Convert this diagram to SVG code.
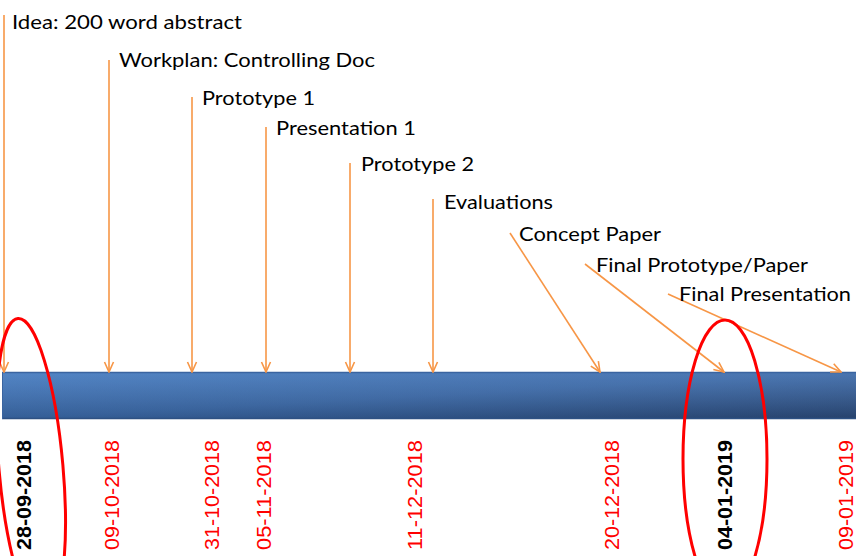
<svg xmlns="http://www.w3.org/2000/svg" width="856" height="556" viewBox="0 0 856 556">
<defs>
<linearGradient id="barg" x1="0" y1="0" x2="1" y2="1">
<stop offset="0" stop-color="#437AC0"/>
<stop offset="0.5" stop-color="#3B6AAA"/>
<stop offset="1" stop-color="#2B4A7A"/>
</linearGradient>
<linearGradient id="barv" x1="0" y1="0" x2="0" y2="1">
<stop offset="0" stop-color="#ffffff" stop-opacity="0.08"/>
<stop offset="1" stop-color="#000000" stop-opacity="0.12"/>
</linearGradient>
<marker id="arr" viewBox="0 0 12 12" refX="11" refY="6" markerWidth="12" markerHeight="12" markerUnits="userSpaceOnUse" orient="auto">
<path d="M1,1.5 L11,6 L1,10.5" fill="none" stroke="#F79646" stroke-width="1.6"/>
</marker>
</defs>
<style>
.lbl{font-family:Lato,"Liberation Sans",sans-serif;font-size:20px;fill:#000}
.conn line{stroke:#F79646;stroke-width:1.6;fill:none;marker-end:url(#arr)}
.dr{font-family:"Liberation Sans",Arial,sans-serif;font-size:21px;fill:#FF0000}
.db{font-family:"Liberation Sans",Arial,sans-serif;font-size:21px;font-weight:bold;fill:#000}
.ell{fill:none;stroke:#FF0000;stroke-width:3}
</style>
<g id="bar">
<rect x="2" y="372" width="856" height="47" fill="url(#barg)"/>
<rect x="2" y="372" width="856" height="47" fill="url(#barv)"/>
<line x1="2" y1="372.5" x2="856" y2="372.5" stroke="#3A64A0" stroke-width="1.5"/>
<line x1="2" y1="418.5" x2="856" y2="418.5" stroke="#2E5183" stroke-width="1.5"/>
<line x1="2.5" y1="372" x2="2.5" y2="419" stroke="#3A64A0" stroke-width="1"/>
</g>
<g class="conn" id="connectors">
<line x1="4" y1="15" x2="4" y2="372"/>
<line x1="109" y1="60" x2="109" y2="372"/>
<line x1="192" y1="97" x2="192" y2="372"/>
<line x1="266" y1="127" x2="266" y2="372"/>
<line x1="350" y1="163" x2="350" y2="372"/>
<line x1="433" y1="199" x2="433" y2="372"/>
<line x1="510" y1="233" x2="600" y2="372"/>
<line x1="585" y1="264" x2="724" y2="372"/>
<line x1="668" y1="294" x2="841" y2="372"/>
</g>
<g id="n-idea"><text class="lbl" x="12" y="29" textLength="230" lengthAdjust="spacingAndGlyphs">Idea: 200 word abstract</text></g>
<g id="n-workplan"><text class="lbl" x="119" y="67" textLength="256" lengthAdjust="spacingAndGlyphs">Workplan: Controlling Doc</text></g>
<g id="n-proto1"><text class="lbl" x="202" y="105" textLength="113" lengthAdjust="spacingAndGlyphs">Prototype 1</text></g>
<g id="n-pres1"><text class="lbl" x="276" y="135" textLength="140" lengthAdjust="spacingAndGlyphs">Presentation 1</text></g>
<g id="n-proto2"><text class="lbl" x="361" y="171" textLength="113" lengthAdjust="spacingAndGlyphs">Prototype 2</text></g>
<g id="n-eval"><text class="lbl" x="444" y="209" textLength="109" lengthAdjust="spacingAndGlyphs">Evaluations</text></g>
<g id="n-concept"><text class="lbl" x="519" y="241" textLength="142" lengthAdjust="spacingAndGlyphs">Concept Paper</text></g>
<g id="n-finalproto"><text class="lbl" x="596" y="272" textLength="212" lengthAdjust="spacingAndGlyphs">Final Prototype/Paper</text></g>
<g id="n-finalpres"><text class="lbl" x="679" y="301" textLength="172" lengthAdjust="spacingAndGlyphs">Final Presentation</text></g>
<g id="dates">
<text class="db" transform="translate(31,550) rotate(-90)" textLength="110" lengthAdjust="spacingAndGlyphs">28-09-2018</text>
<text class="dr" transform="translate(119,550) rotate(-90)" textLength="110" lengthAdjust="spacingAndGlyphs">09-10-2018</text>
<text class="dr" transform="translate(219,550) rotate(-90)" textLength="110" lengthAdjust="spacingAndGlyphs">31-10-2018</text>
<text class="dr" transform="translate(271,550) rotate(-90)" textLength="110" lengthAdjust="spacingAndGlyphs">05-11-2018</text>
<text class="dr" transform="translate(422,550) rotate(-90)" textLength="110" lengthAdjust="spacingAndGlyphs">11-12-2018</text>
<text class="dr" transform="translate(619,550) rotate(-90)" textLength="110" lengthAdjust="spacingAndGlyphs">20-12-2018</text>
<text class="db" transform="translate(732,550) rotate(-90)" textLength="110" lengthAdjust="spacingAndGlyphs">04-01-2019</text>
<text class="dr" transform="translate(853,550) rotate(-90)" textLength="110" lengthAdjust="spacingAndGlyphs">09-01-2019</text>
</g>
<g id="highlights">
<ellipse class="ell" cx="31" cy="468" rx="32" ry="150" transform="rotate(-5 31 468)"/>
<ellipse class="ell" cx="725" cy="459" rx="42" ry="139"/>
</g>
</svg>
